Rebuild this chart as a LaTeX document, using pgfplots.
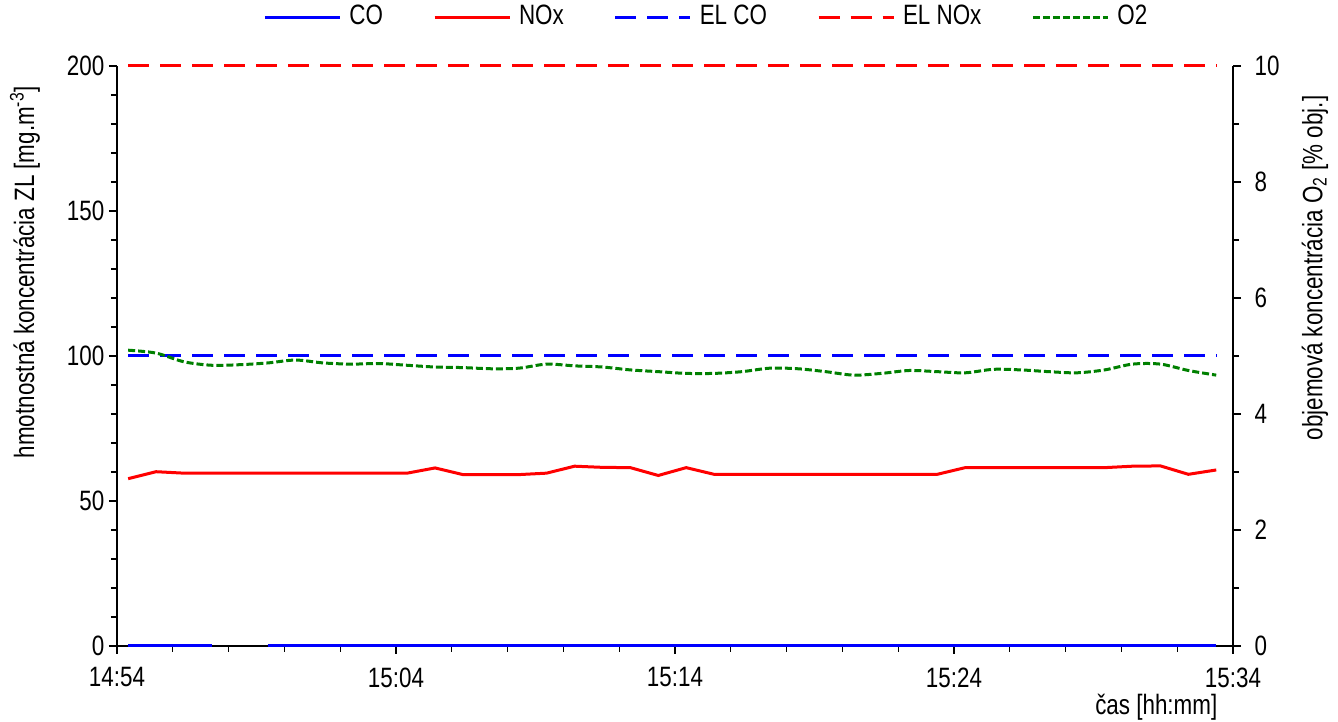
\documentclass[border=0pt]{standalone}
\usepackage{fontspec}
\setmainfont{Liberation Sans}[FakeStretch=0.8]
\usepackage{pgfplots}
\usepackage{pgfplotstable}
\pgfplotsset{compat=1.18}
\definecolor{cblue}{RGB}{0,0,255}
\definecolor{cred}{RGB}{255,0,0}
\definecolor{cgreen}{RGB}{0,128,0}

\pgfplotstableread{
t    co   nox   o2
0.4  0    57.7  5.10
1.4  0    60.1  5.05
2.4  0    59.6  4.90
3.4  0    59.6  4.84
4.4  nan  59.6  4.85
5.4  0    59.6  4.88
6.4  0    59.6  4.93
7.4  0    59.6  4.88
8.4  0    59.6  4.86
9.4  0    59.6  4.87
10.4 0    59.6  4.84
11.4 0    61.4  4.81
12.4 0    59.1  4.80
13.4 0    59.1  4.78
14.4 0    59.1  4.79
15.4 0    59.6  4.86
16.4 0    62.0  4.83
17.4 0    61.6  4.81
18.4 0    61.5  4.76
19.4 0    58.8  4.73
20.4 0    61.5  4.70
21.4 0    59.2  4.70
22.4 0    59.2  4.73
23.4 0    59.2  4.79
24.4 0    59.2  4.78
25.4 0    59.2  4.73
26.4 0    59.2  4.67
27.4 0    59.2  4.70
28.4 0    59.2  4.75
29.4 0    59.2  4.73
30.4 0    61.5  4.71
31.4 0    61.5  4.77
32.4 0    61.5  4.76
33.4 0    61.5  4.73
34.4 0    61.5  4.71
35.4 0    61.5  4.76
36.4 0    62.0  4.86
37.4 0    62.1  4.86
38.4 0    59.2  4.75
39.4 0    60.7  4.67
}\data

\begin{document}
\fontsize{14}{16}\selectfont
\begin{tikzpicture}
\path[use as bounding box] (-58.5pt,-38pt) rectangle (610.5pt,323pt);
\pgfplotsset{
  common/.style={
    scale only axis, width=558pt, height=290pt,
    at={(0pt,0pt)}, anchor=south west,
    xmin=0, xmax=40, ymin=0,
    clip=false,
    tick style={black, line width=0.6pt},
    tick align=outside,
    major tick length=4pt, minor tick length=3pt,
    /pgf/number format/assume math mode=true,
    tick label style={font=\fontsize{14}{16}\selectfont},
    axis line style={line width=0.6pt, black},
    legend image code/.code={\draw[##1] (0pt,0pt) -- (37.5pt,0pt);},
  }
}
\begin{axis}[common,
  ymax=200,
  axis x line*=bottom, axis y line*=left,
  xtick={0,10,20,30,40},
  xticklabels={14:54,15:04,15:14,15:24,15:34},
  xticklabel style={yshift=-2pt},
  minor xtick={2,4,...,38},
  ytick={0,50,100,150,200}, minor ytick={10,20,...,190},
  yticklabel style={xshift=2.5pt},
  unbounded coords=jump,
]
\addplot[cblue, line width=1.5pt] table[x=t, y=co] {\data};
\addplot[cred, line width=1.5pt] table[x=t, y=nox] {\data};
\addplot[cblue, line width=1.5pt, dash pattern=on 10.5pt off 5.5pt] coordinates {(0.4,100) (39.4,100)};
\addplot[cred, line width=1.5pt, dash pattern=on 10.5pt off 5.5pt] coordinates {(0.4,200) (39.4,200)};
\end{axis}

\begin{axis}[common,
  ymax=10,
  axis x line=none, axis y line*=right,
  ytick={0,2,...,10}, minor ytick={1,3,...,9},
  yticklabel style={xshift=2pt},
  legend columns=5,
  legend cell align=left,
  legend style={draw=none, fill=none, at={(0.529,1.084)}, anchor=center,
    font=\fontsize{14}{16}\selectfont,
    /tikz/every odd column/.append style={column sep=2pt},
    /tikz/every even column/.append style={column sep=23pt}},
]
\addlegendimage{cblue, line width=1.5pt}
\addlegendentry{CO}
\addlegendimage{cred, line width=1.5pt}
\addlegendentry{NOx}
\addlegendimage{cblue, line width=1.5pt, dash pattern=on 10.5pt off 5.5pt}
\addlegendentry{EL CO}
\addlegendimage{cred, line width=1.5pt, dash pattern=on 10.5pt off 5.5pt}
\addlegendentry{EL NOx}
\addplot[cgreen, line width=1.5pt, dash pattern=on 3.5pt off 1.5pt, smooth, tension=0.5] table[x=t, y=o2] {\data};
\addlegendentry{O2}
\end{axis}

\node[rotate=90, font=\fontsize{14}{16}\selectfont] at (-46pt,187pt) {hmotnostná koncentrácia ZL [mg.m\textsuperscript{-3}]};
\node[rotate=90, font=\fontsize{14}{16}\selectfont] at (599pt,189pt) {objemová koncentrácia O\textsubscript{2} [\% obj.]};
\node[anchor=east, font=\fontsize{14}{16}\selectfont] at (555pt,-30.5pt) {čas [hh:mm]};
\end{tikzpicture}
\end{document}
